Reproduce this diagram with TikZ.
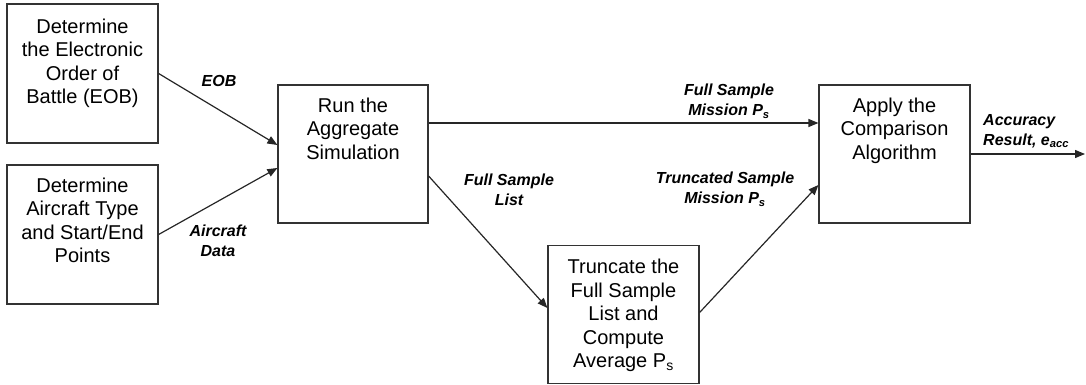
\documentclass[tikz,border=0pt]{standalone}
\usepackage{fontspec}
\setmainfont{Liberation Sans}
\usetikzlibrary{arrows.meta,calc}

\tikzset{
  box/.style={draw=black!80, line width=1.2pt, rectangle, inner sep=0pt,
              minimum width=151pt, minimum height=139pt},
  boxtext/.style={anchor=north, align=center, inner sep=0pt,
                  font=\fontsize{20}{23.5}\selectfont},
  flowlabel/.style={align=center, inner sep=0pt,
                    font=\fontsize{16}{20}\selectfont\bfseries\itshape},
  arr/.style={draw=black!85, line width=1.2pt,
              -{Triangle[length=10pt,width=8pt]}}
}

\begin{document}
\begin{tikzpicture}[x=1pt,y=-1pt]
  \useasboundingbox (0,0) rectangle (1086,385);

  % process boxes
  \node[box] (b1) at (82.5,73.5) {};
  \node[box] (b2) at (82.5,234.5) {};
  \node[box, minimum width=150pt, minimum height=138pt] (b3) at (353,154) {};
  \node[box, minimum height=138pt] (b4) at (894.5,154) {};
  \node[box, minimum height=138pt] (b5) at (623.5,314.5) {};

  % box captions, set from the top edge
  \node[boxtext] (t1) at ($(b1.north)+(0,15)$)
    {Determine\\the Electronic\\Order of\\Battle (EOB)};
  \node[boxtext] (t2) at ($(b2.north)+(0,13)$)
    {Determine\\Aircraft Type\\and Start/End\\Points};
  \node[boxtext] (t3) at ($(b3.north)+(0,13)$)
    {Run the\\Aggregate\\Simulation};
  \node[boxtext] (t4) at ($(b4.north)+(0,13)$)
    {Apply the\\Comparison\\Algorithm};
  \node[boxtext] (t5) at ($(b5.north)+(0,14)$)
    {Truncate the\\Full Sample\\List and\\Compute\\Average P\textsubscript{s}};

  % data flows
  \coordinate (out) at (1085,154);
  \draw[arr] (b1.east) -- ($(b3.west)+(0,-9)$);
  \draw[arr] (b2.east) -- ($(b3.west)+(0,14)$);
  \draw[arr] ($(b3.east)+(0,-31)$) -- ($(b4.west)+(0,-31)$);
  \draw[arr] ($(b3.east)+(0,22)$) -- ($(b5.west)+(0,-6.5)$);
  \draw[arr] ($(b5.east)+(0,-2)$) -- ($(b4.west)+(0,31)$);
  \draw[arr] (b4.east) -- (out);

  % flow labels
  \node[flowlabel] (l1) at (219,81) {EOB};
  \node[flowlabel] (l2) at (218,241) {Aircraft\\Data};
  \node[flowlabel] (l3) at (729,101) {Full Sample\\Mission P\textsubscript{s}};
  \node[flowlabel] (l4) at (509,190) {Full Sample\\List};
  \node[flowlabel] (l5) at (725,189) {Truncated Sample\\Mission P\textsubscript{s}};
  \node[flowlabel, align=left, anchor=west] (l6) at (983,131)
    {Accuracy\\Result, e\textsubscript{acc}};
\end{tikzpicture}
\end{document}
